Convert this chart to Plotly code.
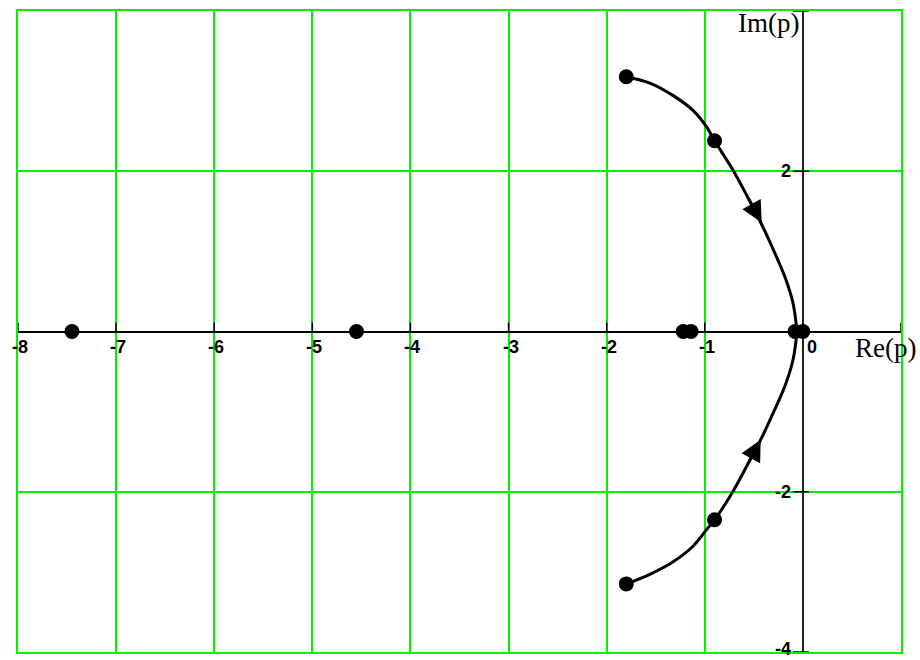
import plotly.graph_objects as go

# Root locus branches (complex plane, p = Re + j·Im)
re_upper = [-1.80, -1.56, -1.33, -1.12, -0.98, -0.90, -0.71, -0.56, -0.43, -0.33, -0.18, -0.10, -0.06]
im_upper = [3.18, 3.10, 2.95, 2.76, 2.55, 2.38, 2.01, 1.67, 1.36, 1.10, 0.67, 0.35, 0.00]
re_lower = [-0.06, -0.10, -0.18, -0.33, -0.43, -0.56, -0.71, -0.90, -0.98, -1.12, -1.33, -1.56, -1.80]
im_lower = [0.00, -0.35, -0.67, -1.09, -1.35, -1.65, -1.99, -2.35, -2.47, -2.68, -2.88, -3.03, -3.15]

# Poles / roots marked with dots
re_roots = [-7.45, -4.55, -1.22, -1.14, -0.08, 0.00, -1.80, -0.90, -0.90, -1.80]
im_roots = [0.00, 0.00, 0.00, 0.00, 0.00, 0.00, 3.18, 2.38, -2.35, -3.15]

# Direction arrows along the branches (tail -> tip)
arrow_tail_re = [-0.56, -0.56]
arrow_tail_im = [1.67, -1.65]
arrow_tip_re = [-0.42, -0.43]
arrow_tip_im = [1.36, -1.35]

# Axis ticks and labels
x_ticks = [-8, -7, -6, -5, -4, -3, -2, -1, 0, 1]
x_labels = ["-8", "-7", "-6", "-5", "-4", "-3", "-2", "-1", "0", ""]
y_ticks = [-4, -2, 2, 4]
y_labels = ["-4", "-2", "2", ""]

GREEN = "#00f000"
TICK_FONT = dict(family="Liberation Sans", size=18, color="#000000", weight="bold")
fig = go.Figure()

fig.add_trace(go.Scatter(x=re_upper, y=im_upper, mode="lines",
                         line=dict(color="black", width=3, shape="spline", smoothing=1.0),
                         hoverinfo="skip"))
fig.add_trace(go.Scatter(x=re_lower, y=im_lower, mode="lines",
                         line=dict(color="black", width=3, shape="spline", smoothing=1.0),
                         hoverinfo="skip"))
fig.add_trace(go.Scatter(x=re_roots, y=im_roots, mode="markers",
                         marker=dict(color="black", size=15, symbol="circle"),
                         hoverinfo="skip"))

for tx, ty, hx, hy in zip(arrow_tail_re, arrow_tail_im, arrow_tip_re, arrow_tip_im):
    fig.add_annotation(x=hx, y=hy, ax=tx, ay=ty, xref="x", yref="y",
                       axref="x", ayref="y", showarrow=True, text="",
                       arrowhead=2, arrowsize=1.4, arrowwidth=3,
                       arrowcolor="black", standoff=0, startstandoff=0)

shapes = []
for t in x_ticks:
    shapes.append(dict(type="line", xref="x", yref="y", ysizemode="pixel",
                       yanchor=0, x0=t, x1=t, y0=0, y1=9,
                       line=dict(color="black", width=1.5), layer="above"))
for t in y_ticks:
    shapes.append(dict(type="line", xref="x", yref="y", xsizemode="pixel",
                       xanchor=0, x0=-10, x1=6, y0=t, y1=t,
                       line=dict(color="black", width=1.5), layer="above"))

for t, lab in zip(x_ticks, x_labels):
    if not lab:
        continue
    fig.add_annotation(x=t, y=0, text=lab, showarrow=False,
                       xanchor="left" if t == 0 else "center",
                       yanchor="top", xshift=2, yshift=-3, font=TICK_FONT)
for t, lab in zip(y_ticks, y_labels):
    if not lab:
        continue
    fig.add_annotation(x=0, y=t, text=lab, showarrow=False, xanchor="right",
                       yanchor="middle", xshift=-10, yshift=3 if t == -4 else 0,
                       font=TICK_FONT)

title_font = dict(family="Liberation Serif, Times New Roman, serif", size=27, color="black")
fig.add_annotation(x=0, y=4, text="Im(p)", showarrow=False, xanchor="right",
                   yanchor="middle", xshift=-2, yshift=-12, font=title_font)
fig.add_annotation(x=1, y=0, text="Re(p)", showarrow=False, xanchor="right",
                   yanchor="middle", xshift=17, yshift=-16, font=title_font)

fig.update_layout(
    width=920, height=660,
    margin=dict(l=18, r=19, t=11, b=8),
    paper_bgcolor="white", plot_bgcolor="white",
    showlegend=False,
    shapes=shapes,
    xaxis=dict(range=[-8, 1], tickvals=x_ticks, showticklabels=False,
               showgrid=True, gridcolor=GREEN, gridwidth=2,
               zeroline=True, zerolinecolor="#222222", zerolinewidth=2,
               showline=True, mirror=True, linecolor=GREEN, linewidth=2,
               ticks="", fixedrange=True),
    yaxis=dict(range=[-4, 4], tickvals=[-4, -2, 0, 2, 4], showticklabels=False,
               showgrid=True, gridcolor=GREEN, gridwidth=2,
               zeroline=True, zerolinecolor="black", zerolinewidth=2,
               showline=True, mirror=True, linecolor=GREEN, linewidth=2,
               ticks="", fixedrange=True),
)

fig.write_html("out.html")
